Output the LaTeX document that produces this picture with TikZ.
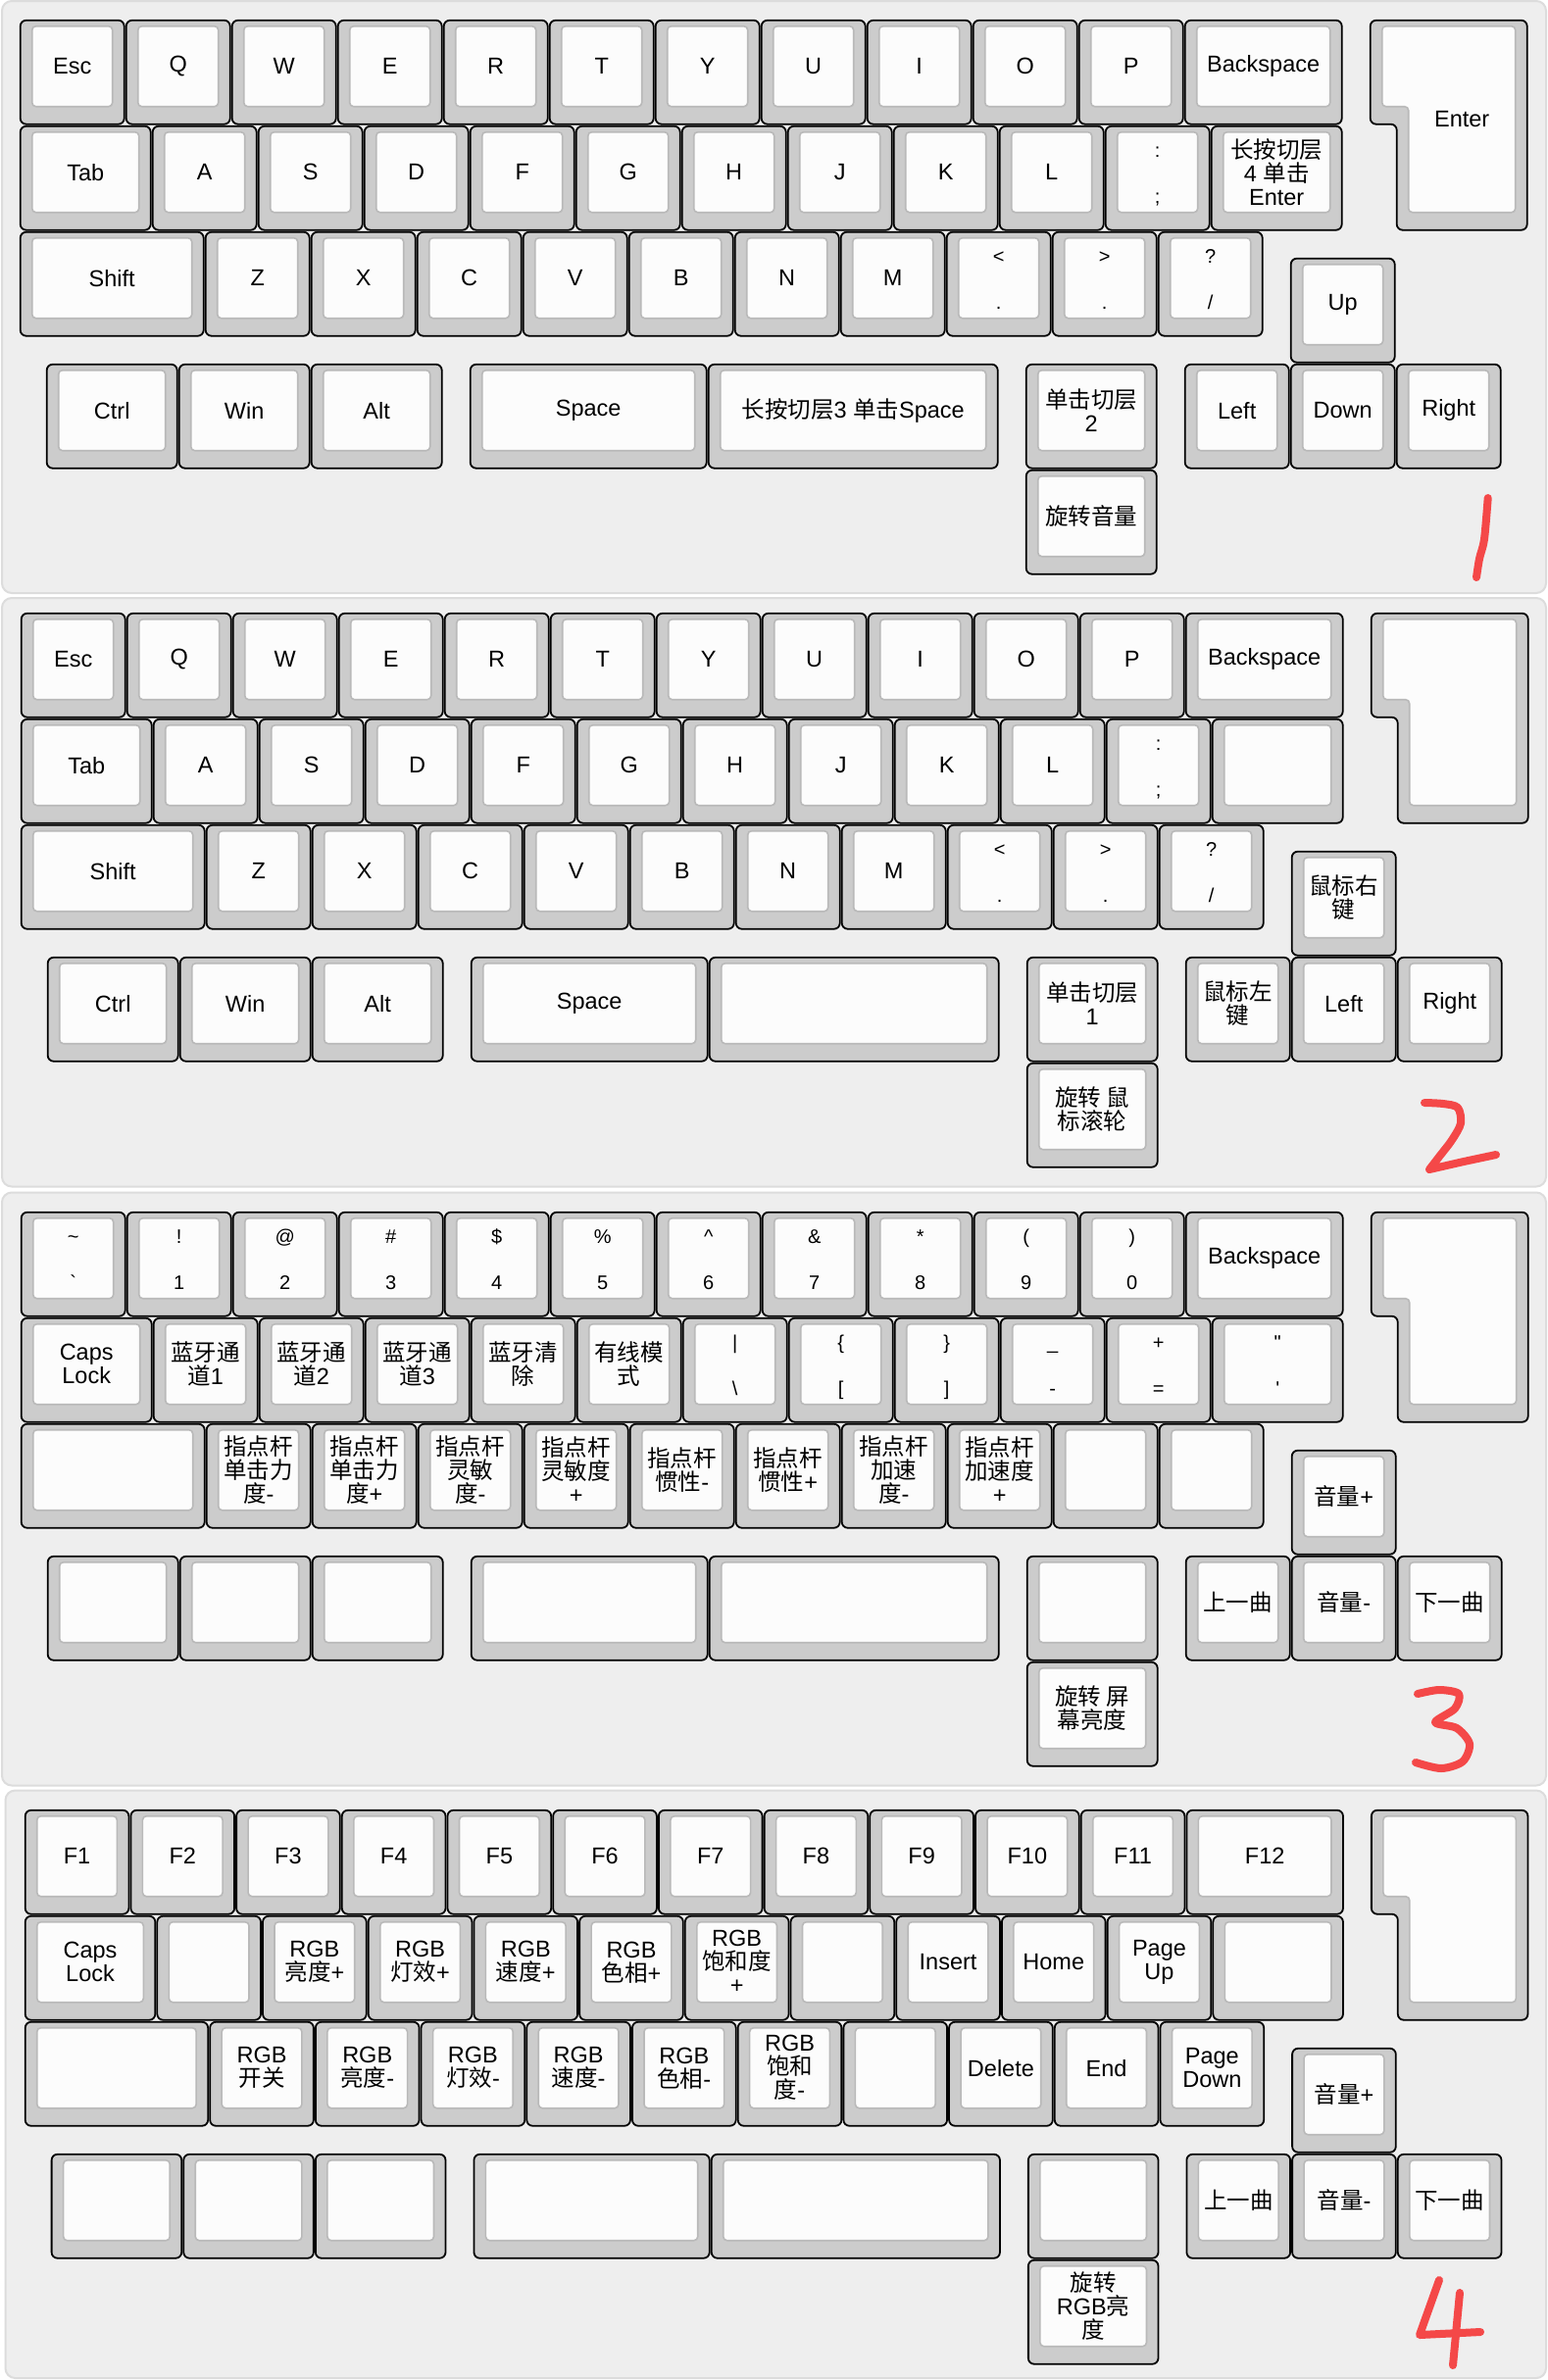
\documentclass[tikz,border=0pt]{standalone}
\usepackage{fontspec}
\setmainfont{Liberation Sans}
\newfontfamily\cjk{Noto Sans CJK SC}
\usepackage{xcolor}
\usepackage{tikz}

\definecolor{panelbg}{HTML}{EEEEEE}
\definecolor{panelrim}{HTML}{DCDCDC}
\definecolor{capside}{HTML}{CCCCCC}
\definecolor{captop}{HTML}{FCFCFC}
\definecolor{caprim}{HTML}{B9B9B9}
\definecolor{penred}{HTML}{F44848}

\newcommand\zh[1]{{\cjk #1}}
% x, y, w, h in key units
\newcommand\capbody[4]{%
  \draw[keyout] ([xshift=1pt,yshift=-1pt]{#1},{#2}) rectangle ([xshift=-1pt,yshift=1pt]{#1+#3},{#2+#4});
  \draw[keyface] ([xshift=13pt,yshift=-7pt]{#1},{#2}) rectangle ([xshift=-13pt,yshift=19pt]{#1+#3},{#2+#4});}
\newcommand\key[6]{%
  \capbody{#1}{#2}{#3}{#4}
  \node[keytext] (#5) at ([yshift=6pt]{#1+#3/2},{#2+#4/2}) {#6};}
\newcommand\dkey[6]{%
  \capbody{#1}{#2}{#3}{1}
  \node[legendtxt] (#4t) at ([yshift=-33pt]{#1+#3/2},{#2}) {#5};
  \node[legendtxt] (#4b) at ([yshift=-80pt]{#1+#3/2},{#2}) {#6};}
\newcommand\isoenter[2]{%
  \draw[keyout] ([xshift=1pt,yshift=-1pt]12.75,0) -- ([xshift=-1pt,yshift=-1pt]14.25,0)
    -- ([xshift=-1pt,yshift=1pt]14.25,2) -- ([xshift=1pt,yshift=1pt]13,2)
    -- ([xshift=1pt,yshift=1pt]13,1) -- ([xshift=1pt,yshift=1pt]12.75,1) -- cycle;
  \draw[keyface] ([xshift=13pt,yshift=-7pt]12.75,0) -- ([xshift=-13pt,yshift=-7pt]14.25,0)
    -- ([xshift=-13pt,yshift=19pt]14.25,2) -- ([xshift=13pt,yshift=19pt]13,2)
    -- ([xshift=13pt,yshift=19pt]13,1) -- ([xshift=13pt,yshift=19pt]12.75,1) -- cycle;
  \node[keytext] (#1) at ([yshift=6pt]13.625,1) {#2};}

\begin{document}
\begin{tikzpicture}[x=1pt, y=-1pt,
  panel/.style={fill=panelbg, draw=panelrim, line width=2pt, rounded corners=10pt},
  keyout/.style={fill=capside, draw=black, line width=1.8pt, rounded corners=6pt},
  keyface/.style={fill=captop, draw=caprim, line width=1.6pt, rounded corners=4pt},
  keytext/.style={font=\fontsize{23.5}{24}\selectfont, align=center, inner sep=0pt},
  legendtxt/.style={font=\fontsize{20}{22}\selectfont, anchor=base, inner sep=0pt},
  scrawl/.style={draw=penred, line width=8pt, line cap=round, line join=round}
]
\useasboundingbox (0,0) rectangle (1579,2428);
\fill[white] (0,0) rectangle (1579,2428);
\draw[panel] (2,1) rectangle (1577,605);
\draw[panel] (2,610) rectangle (1577,1210.5);
\draw[panel] (2,1216.5) rectangle (1577,1821.5);
\draw[panel] (5.5,1826.5) rectangle (1577,2426);

% layer 1
\begin{scope}[shift={(19.7,19.7)}, x=108pt, y=-108pt]
  \foreach \lab [count=\i from 0] in {Esc,Q,W,E,R,T,Y,U,I,O,P}
    {\key{\i}{0}{1}{1}{a-0-\i}{\lab}}
  \key{11}{0}{1.5}{1}{a-bksp}{Backspace}
  \isoenter{a-enter}{Enter}
  \key{0}{1}{1.25}{1}{a-tab}{Tab}
  \foreach \lab [count=\i from 0] in {A,S,D,F,G,H,J,K,L}
    {\key{\i+1.25}{1}{1}{1}{a-1-\i}{\lab}}
  \dkey{10.25}{1}{1}{a-semi}{:}{;}
  \key{11.25}{1}{1.25}{1}{a-hold4}{\zh{长按切层}\\4 \zh{单击}\\Enter}
  \key{0}{2}{1.75}{1}{a-shift}{Shift}
  \foreach \lab [count=\i from 0] in {Z,X,C,V,B,N,M}
    {\key{\i+1.75}{2}{1}{1}{a-2-\i}{\lab}}
  \dkey{8.75}{2}{1}{a-comma}{<}{.}
  \dkey{9.75}{2}{1}{a-dot}{>}{.}
  \dkey{10.75}{2}{1}{a-slash}{?}{/}
  \key{12}{2.25}{1}{1}{a-up}{Up}
  \key{0.25}{3.25}{1.25}{1}{a-ctrl}{Ctrl}
  \key{1.5}{3.25}{1.25}{1}{a-win}{Win}
  \key{2.75}{3.25}{1.25}{1}{a-alt}{Alt}
  \key{4.25}{3.25}{2.25}{1}{a-space}{Space}
  \key{6.5}{3.25}{2.75}{1}{a-hold3}{\zh{长按切层}3 \zh{单击}Space}
  \key{9.5}{3.25}{1.25}{1}{a-tap}{\zh{单击切层}\\2}
  \key{9.5}{4.25}{1.25}{1}{a-knob}{\zh{旋转音量}}
  \key{11}{3.25}{1}{1}{a-left}{Left}
  \key{12}{3.25}{1}{1}{a-down}{Down}
  \key{13}{3.25}{1}{1}{a-right}{Right}
\end{scope}

% layer 2
\begin{scope}[shift={(20.7,624.7)}, x=108pt, y=-108pt]
  \foreach \lab [count=\i from 0] in {Esc,Q,W,E,R,T,Y,U,I,O,P}
    {\key{\i}{0}{1}{1}{b-0-\i}{\lab}}
  \key{11}{0}{1.5}{1}{b-bksp}{Backspace}
  \isoenter{b-enter}{}
  \key{0}{1}{1.25}{1}{b-tab}{Tab}
  \foreach \lab [count=\i from 0] in {A,S,D,F,G,H,J,K,L}
    {\key{\i+1.25}{1}{1}{1}{b-1-\i}{\lab}}
  \dkey{10.25}{1}{1}{b-semi}{:}{;}
  \key{11.25}{1}{1.25}{1}{b-quote}{}
  \key{0}{2}{1.75}{1}{b-shift}{Shift}
  \foreach \lab [count=\i from 0] in {Z,X,C,V,B,N,M}
    {\key{\i+1.75}{2}{1}{1}{b-2-\i}{\lab}}
  \dkey{8.75}{2}{1}{b-comma}{<}{.}
  \dkey{9.75}{2}{1}{b-dot}{>}{.}
  \dkey{10.75}{2}{1}{b-slash}{?}{/}
  \key{12}{2.25}{1}{1}{b-rclick}{\zh{鼠标右}\\\zh{键}}
  \key{0.25}{3.25}{1.25}{1}{b-ctrl}{Ctrl}
  \key{1.5}{3.25}{1.25}{1}{b-win}{Win}
  \key{2.75}{3.25}{1.25}{1}{b-alt}{Alt}
  \key{4.25}{3.25}{2.25}{1}{b-space}{Space}
  \key{6.5}{3.25}{2.75}{1}{b-hold3}{}
  \key{9.5}{3.25}{1.25}{1}{b-tap}{\zh{单击切层}\\1}
  \key{9.5}{4.25}{1.25}{1}{b-knob}{\zh{旋转 鼠}\\\zh{标滚轮}}
  \key{11}{3.25}{1}{1}{b-lclick}{\zh{鼠标左}\\\zh{键}}
  \key{12}{3.25}{1}{1}{b-left}{Left}
  \key{13}{3.25}{1}{1}{b-right}{Right}
\end{scope}

% layer 3
\begin{scope}[shift={(20.7,1235.7)}, x=108pt, y=-108pt]
  \dkey{0}{0}{1}{c-0-0}{\textasciitilde}{\textasciigrave}
  \dkey{1}{0}{1}{c-0-1}{!}{1}
  \dkey{2}{0}{1}{c-0-2}{@}{2}
  \dkey{3}{0}{1}{c-0-3}{\#}{3}
  \dkey{4}{0}{1}{c-0-4}{\$}{4}
  \dkey{5}{0}{1}{c-0-5}{\%}{5}
  \dkey{6}{0}{1}{c-0-6}{\textasciicircum}{6}
  \dkey{7}{0}{1}{c-0-7}{\&}{7}
  \dkey{8}{0}{1}{c-0-8}{*}{8}
  \dkey{9}{0}{1}{c-0-9}{(}{9}
  \dkey{10}{0}{1}{c-0-10}{)}{0}
  \key{11}{0}{1.5}{1}{c-bksp}{Backspace}
  \isoenter{c-enter}{}
  \key{0}{1}{1.25}{1}{c-caps}{Caps\\Lock}
  \key{1.25}{1}{1}{1}{c-bt1}{\zh{蓝牙通}\\\zh{道}1}
  \key{2.25}{1}{1}{1}{c-bt2}{\zh{蓝牙通}\\\zh{道}2}
  \key{3.25}{1}{1}{1}{c-bt3}{\zh{蓝牙通}\\\zh{道}3}
  \key{4.25}{1}{1}{1}{c-btclr}{\zh{蓝牙清}\\\zh{除}}
  \key{5.25}{1}{1}{1}{c-wired}{\zh{有线模}\\\zh{式}}
  \dkey{6.25}{1}{1}{c-bslash}{|}{\textbackslash}
  \dkey{7.25}{1}{1}{c-lbrack}{\{}{[}
  \dkey{8.25}{1}{1}{c-rbrack}{\}}{]}
  \dkey{9.25}{1}{1}{c-minus}{\_}{-}
  \dkey{10.25}{1}{1}{c-equal}{+}{=}
  \dkey{11.25}{1}{1.25}{c-quote}{\textquotedbl}{\textquotesingle}
  \key{0}{2}{1.75}{1}{c-shift}{}
  \key{1.75}{2}{1}{1}{c-tp1}{\zh{指点杆}\\\zh{单击力}\\\zh{度}-}
  \key{2.75}{2}{1}{1}{c-tp2}{\zh{指点杆}\\\zh{单击力}\\\zh{度}+}
  \key{3.75}{2}{1}{1}{c-tp3}{\zh{指点杆}\\\zh{灵敏}\\\zh{度}-}
  \key{4.75}{2}{1}{1}{c-tp4}{\zh{指点杆}\\\zh{灵敏度}\\+}
  \key{5.75}{2}{1}{1}{c-tp5}{\zh{指点杆}\\\zh{惯性}-}
  \key{6.75}{2}{1}{1}{c-tp6}{\zh{指点杆}\\\zh{惯性}+}
  \key{7.75}{2}{1}{1}{c-tp7}{\zh{指点杆}\\\zh{加速}\\\zh{度}-}
  \key{8.75}{2}{1}{1}{c-tp8}{\zh{指点杆}\\\zh{加速度}\\+}
  \key{9.75}{2}{1}{1}{c-2-9}{}
  \key{10.75}{2}{1}{1}{c-2-10}{}
  \key{12}{2.25}{1}{1}{c-volup}{\zh{音量}+}
  \key{0.25}{3.25}{1.25}{1}{c-ctrl}{}
  \key{1.5}{3.25}{1.25}{1}{c-win}{}
  \key{2.75}{3.25}{1.25}{1}{c-alt}{}
  \key{4.25}{3.25}{2.25}{1}{c-space}{}
  \key{6.5}{3.25}{2.75}{1}{c-hold3}{}
  \key{9.5}{3.25}{1.25}{1}{c-tap}{}
  \key{9.5}{4.25}{1.25}{1}{c-knob}{\zh{旋转 屏}\\\zh{幕亮度}}
  \key{11}{3.25}{1}{1}{c-prev}{\zh{上一曲}}
  \key{12}{3.25}{1}{1}{c-voldn}{\zh{音量}-}
  \key{13}{3.25}{1}{1}{c-next}{\zh{下一曲}}
\end{scope}

% layer 4
\begin{scope}[shift={(24.7,1845.7)}, x=107.7pt, y=-108pt]
  \foreach \lab [count=\i from 0] in {F1,F2,F3,F4,F5,F6,F7,F8,F9,F10,F11}
    {\key{\i}{0}{1}{1}{d-0-\i}{\lab}}
  \key{11}{0}{1.5}{1}{d-f12}{F12}
  \isoenter{d-enter}{}
  \key{0}{1}{1.25}{1}{d-caps}{Caps\\Lock}
  \key{1.25}{1}{1}{1}{d-1-1}{}
  \key{2.25}{1}{1}{1}{d-brup}{RGB\\\zh{亮度}+}
  \key{3.25}{1}{1}{1}{d-fxup}{RGB\\\zh{灯效}+}
  \key{4.25}{1}{1}{1}{d-spup}{RGB\\\zh{速度}+}
  \key{5.25}{1}{1}{1}{d-huup}{RGB\\\zh{色相}+}
  \key{6.25}{1}{1}{1}{d-saup}{RGB\\\zh{饱和度}\\+}
  \key{7.25}{1}{1}{1}{d-1-7}{}
  \key{8.25}{1}{1}{1}{d-ins}{Insert}
  \key{9.25}{1}{1}{1}{d-home}{Home}
  \key{10.25}{1}{1}{1}{d-pgup}{Page\\Up}
  \key{11.25}{1}{1.25}{1}{d-1-11}{}
  \key{0}{2}{1.75}{1}{d-shift}{}
  \key{1.75}{2}{1}{1}{d-rgb}{RGB\\\zh{开关}}
  \key{2.75}{2}{1}{1}{d-brdn}{RGB\\\zh{亮度}-}
  \key{3.75}{2}{1}{1}{d-fxdn}{RGB\\\zh{灯效}-}
  \key{4.75}{2}{1}{1}{d-spdn}{RGB\\\zh{速度}-}
  \key{5.75}{2}{1}{1}{d-hudn}{RGB\\\zh{色相}-}
  \key{6.75}{2}{1}{1}{d-sadn}{RGB\\\zh{饱和}\\\zh{度}-}
  \key{7.75}{2}{1}{1}{d-2-7}{}
  \key{8.75}{2}{1}{1}{d-del}{Delete}
  \key{9.75}{2}{1}{1}{d-end}{End}
  \key{10.75}{2}{1}{1}{d-pgdn}{Page\\Down}
  \key{12}{2.25}{1}{1}{d-volup}{\zh{音量}+}
  \key{0.25}{3.25}{1.25}{1}{d-ctrl}{}
  \key{1.5}{3.25}{1.25}{1}{d-win}{}
  \key{2.75}{3.25}{1.25}{1}{d-alt}{}
  \key{4.25}{3.25}{2.25}{1}{d-space}{}
  \key{6.5}{3.25}{2.75}{1}{d-hold3}{}
  \key{9.5}{3.25}{1.25}{1}{d-tap}{}
  \key{9.5}{4.25}{1.25}{1}{d-knob}{\zh{旋转}\\RGB\zh{亮}\\\zh{度}}
  \key{11}{3.25}{1}{1}{d-prev}{\zh{上一曲}}
  \key{12}{3.25}{1}{1}{d-voldn}{\zh{音量}-}
  \key{13}{3.25}{1}{1}{d-next}{\zh{下一曲}}
\end{scope}

% hand-written layer numbers
\draw[scrawl] plot[smooth] coordinates {(1517.7,508) (1514,550) (1509,570) (1506,589)};
\draw[scrawl] plot[smooth] coordinates {(1453,1125) (1472,1126) (1487,1130) (1490,1146) (1481,1163) (1468,1180) (1458,1193)}
  -- (1493,1185) -- (1526,1178);
\draw[scrawl] plot[smooth] coordinates {(1446,1728) (1468,1724) (1488,1728) (1484,1743) (1464,1757)
  (1486,1763) (1499,1779) (1492,1797) (1470,1804) (1444,1798)};
\draw[scrawl] (1468,2326) -- (1448,2382) -- (1510,2379);
\draw[scrawl] (1489,2339) -- (1482,2413);
\end{tikzpicture}
\end{document}
